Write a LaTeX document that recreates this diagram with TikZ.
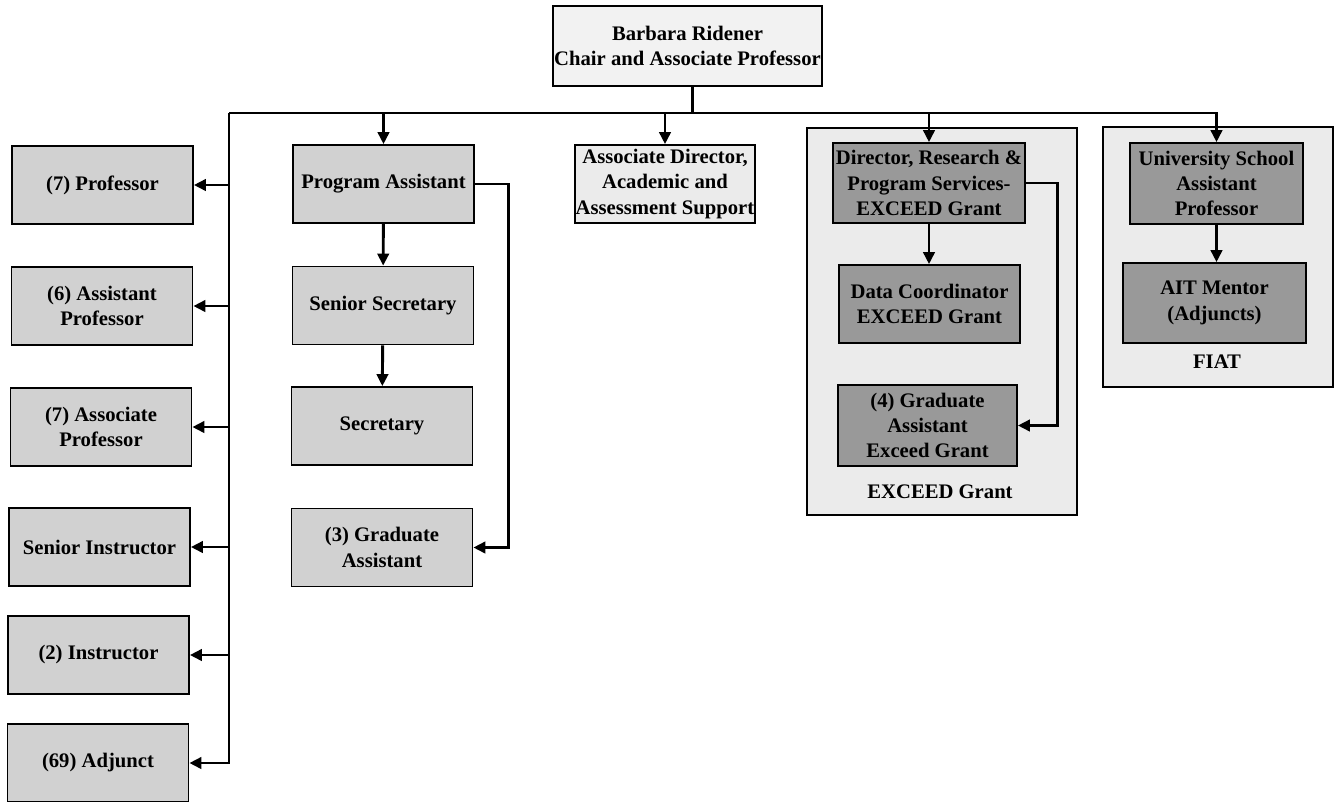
\documentclass[tikz,border=0pt]{standalone}
\usepackage{fontspec}
\setmainfont{Liberation Serif}
\usepackage{xcolor}
\definecolor{boxgray}{gray}{0.82}
\definecolor{grantgray}{gray}{0.6}
\definecolor{palegray}{gray}{0.92}
\definecolor{topgray}{gray}{0.95}
\usepackage{tikz}
\usetikzlibrary{arrows.meta}
\def\pxl{0.75pt}

\begin{document}
\begin{tikzpicture}[
    x=0.75pt, y=-0.75pt,
    font=\fontsize{15.5}{19}\selectfont\bfseries,
    box/.style={draw, line width=1.3pt, fill=boxgray, align=center, inner sep=0pt,
      minimum width=181*\pxl, minimum height=78*\pxl},
    darkbox/.style={box, fill=grantgray},
    frame/.style={draw, line width=1pt, fill=palegray},
    link/.style={line width=2.2pt},
    arrow/.style={link, -{Triangle[length=9pt,width=8.5pt]}}
  ]
  \useasboundingbox (0,0) rectangle (1335,801);

  \node[box, fill=topgray, minimum width=269*\pxl, minimum height=80*\pxl] (chair) at (687.5,46)
    {Barbara Ridener\\Chair and Associate Professor};

  \node[box] (prof) at (102.5,185) {(7) Professor};
  \node[box] (asstprof) at (102,306) {(6) Assistant\\Professor};
  \node[box] (assocprof) at (101,427) {(7) Associate\\Professor};
  \node[box] (srinstr) at (99.5,547) {Senior Instructor};
  \node[box] (instr) at (98.5,655) {(2) Instructor};
  \node[box] (adjunct) at (98,763) {(69) Adjunct};

  \node[box] (progasst) at (383.5,184) {Program Assistant};
  \node[box] (srsec) at (383,305.5) {Senior Secretary};
  \node[box] (sec) at (382,426) {Secretary};
  \node[box] (gradasst) at (382,547.5) {(3) Graduate\\Assistant};

  \node[box, fill=palegray, minimum width=180*\pxl] (assocdir) at (665,184)
    {Associate Director,\\Academic and\\Assessment Support};

  \node[frame, minimum width=270*\pxl, minimum height=387*\pxl] (exceed) at (942,321.5) {};
  \node[darkbox, minimum width=192*\pxl, minimum height=80*\pxl] (dir) at (929,183)
    {Director, Research \&\\Program Services-\\EXCEED Grant};
  \node[darkbox] (datacoord) at (929.5,304) {Data Coordinator\\EXCEED Grant};
  \node[darkbox, minimum width=179*\pxl, minimum height=81*\pxl] (gaexceed) at (927.5,425.5)
    {(4) Graduate\\Assistant\\Exceed Grant};
  \node (exceedlbl) at (940,492) {EXCEED Grant};

  \node[frame, minimum width=230*\pxl, minimum height=260*\pxl] (fiat) at (1218,257) {};
  \node[darkbox, minimum width=173*\pxl, minimum height=81*\pxl] (univ) at (1216.5,183.5)
    {University School\\Assistant\\Professor};
  \node[darkbox, minimum width=183*\pxl, minimum height=80*\pxl] (ait) at (1214.5,303)
    {AIT Mentor\\(Adjuncts)};
  \node (fiatlbl) at (1217,362) {FIAT};

  \coordinate (barL) at (229,113);
  \draw[link] ([xshift=4pt]chair.south) -- ([xshift=4pt]chair.south |- barL);
  \draw[arrow] (barL) -| (univ);
  \draw[arrow] (barL) |- (adjunct);
  \foreach \n in {prof, asstprof, assocprof, srinstr, instr}
    \draw[arrow] (barL |- \n) -- (\n);
  \foreach \n in {progasst, assocdir, dir}
    \draw[arrow] (\n |- barL) -- (\n);
  \draw[arrow] (progasst) -- (srsec);
  \draw[arrow] (srsec) -- (sec);
  \draw[arrow] (dir.south) -- (dir.south |- datacoord.north);
  \draw[arrow] (univ.south) -- (univ.south |- ait.north);
  \draw[arrow] (progasst.east) -- ++(34,0) |- (gradasst);
  \draw[arrow] (dir.east) -- ++(32,0) |- (gaexceed);
\end{tikzpicture}
\end{document}
